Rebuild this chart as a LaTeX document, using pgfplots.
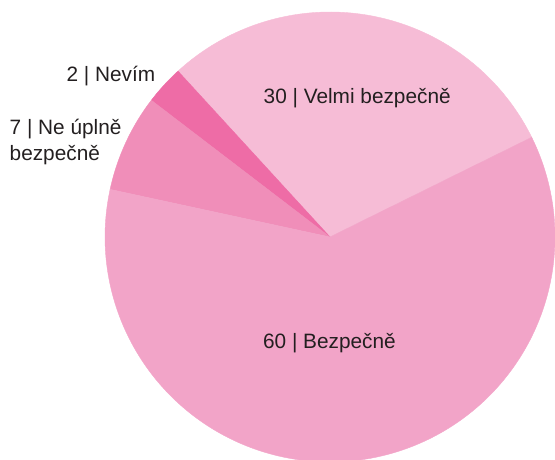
\documentclass[border=0pt]{standalone}
\usepackage{pgfplots}
\pgfplotsset{compat=1.18}
\usepackage{pgfplotstable}
\usepackage{fontspec}
\setmainfont{Liberation Sans}
\definecolor{cA}{RGB}{246,188,214}
\definecolor{cB}{RGB}{238,108,166}
\definecolor{cC}{RGB}{240,142,185}
\definecolor{cD}{RGB}{242,164,200}
\definecolor{txt}{RGB}{35,31,32}
% shares of the pie (percent), in drawing order (counter-clockwise)
\pgfplotstableread{
value
29.5
2.8
7.0
60.7
}\piedata
\begin{document}
\begin{tikzpicture}
\pgfplotstablegetelem{0}{value}\of\piedata \let\vA\pgfplotsretval
\pgfplotstablegetelem{1}{value}\of\piedata \let\vB\pgfplotsretval
\pgfplotstablegetelem{2}{value}\of\piedata \let\vC\pgfplotsretval
\pgfplotstablegetelem{3}{value}\of\piedata \let\vD\pgfplotsretval
\pgfmathsetmacro{\aA}{26.3}
\pgfmathsetmacro{\aB}{\aA+3.6*\vA}
\pgfmathsetmacro{\aC}{\aB+3.6*\vB}
\pgfmathsetmacro{\aD}{\aC+3.6*\vC}
\pgfmathsetmacro{\aE}{\aD+3.6*\vD}
\begin{axis}[name=ax, hide axis, scale only axis,
  width=277.5pt, height=229.5pt,
  xmin=-1.4667, xmax=1.0, ymin=-0.9867, ymax=1.0533, clip=true]
\addplot[fill=cA, draw=cA, line width=0.2pt, domain=\aA:\aB, samples=90, variable=\t] ({cos(\t)},{sin(\t)}) -- (axis cs:0,0) -- cycle;
\addplot[fill=cB, draw=cB, line width=0.2pt, domain=\aB:\aC, samples=20, variable=\t] ({cos(\t)},{sin(\t)}) -- (axis cs:0,0) -- cycle;
\addplot[fill=cC, draw=cC, line width=0.2pt, domain=\aC:\aD, samples=30, variable=\t] ({cos(\t)},{sin(\t)}) -- (axis cs:0,0) -- cycle;
\addplot[fill=cD, draw=cD, line width=0.2pt, domain=\aD:\aE, samples=180, variable=\t] ({cos(\t)},{sin(\t)}) -- (axis cs:0,0) -- cycle;
\tikzset{lbl/.style={text=txt, font=\fontsize{10.4}{10.5}\selectfont, inner sep=0pt}}
\node[lbl, anchor=base west] at (axis cs:-0.2964,0.594) {30 | Velmi bezpečně};
\node[lbl, anchor=base west] at (axis cs:-0.299,-0.4947) {60 | Bezpečně};
\node[lbl, anchor=base east] at (axis cs:-0.775,0.690) {2 | Nevím};
\node[lbl, anchor=base west] at (axis cs:-1.4253,0.4533) {7 | Ne úplně};
\node[lbl, anchor=base west] at (axis cs:-1.4253,0.342) {bezpečně};
\end{axis}
\pgfresetboundingbox
\useasboundingbox (ax.south west) rectangle (ax.north east);
\end{tikzpicture}
\end{document}
